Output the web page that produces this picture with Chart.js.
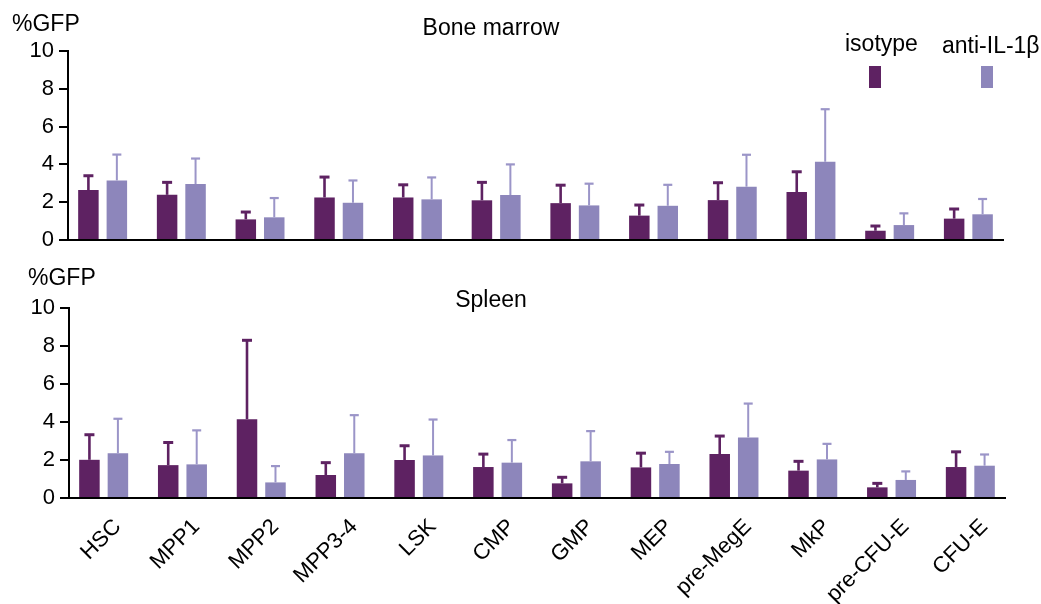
<!DOCTYPE html>
<html>
<head>
<meta charset="utf-8">
<script src="https://cdn.jsdelivr.net/npm/chart.js@4/dist/chart.umd.min.js"></script>
<style>
  html,body{margin:0;padding:0;background:#fff;}
  body{width:1041px;height:604px;overflow:hidden;position:relative;font-family:"Liberation Sans",Arial,sans-serif;}
  canvas{position:absolute;left:0;}
  #c1{top:0;}
  #c2{top:260px;}
  .t{position:absolute;font-size:23px;line-height:23px;color:#000;white-space:nowrap;}
  .box{position:absolute;width:12px;height:22px;}
</style>
</head>
<body>
<canvas id="c1" width="1041" height="260"></canvas>
<canvas id="c2" width="1041" height="344"></canvas>

<div class="t" style="left:12px;top:12px;">%GFP</div>
<div class="t" style="left:28px;top:266px;">%GFP</div>
<div class="t" id="title0" style="left:391px;width:200px;text-align:center;top:16px;"></div>
<div class="t" id="title1" style="left:391px;width:200px;text-align:center;top:288px;"></div>
<div class="t" id="leg0" style="left:845px;top:32px;"></div>
<div class="t" id="leg1" style="left:942px;top:34px;"></div>
<div class="box" id="box0" style="left:869px;top:66px;"></div>
<div class="box" id="box1" style="left:981px;top:66px;"></div>

<script>
// ---------------- data ----------------
const categories = ['HSC','MPP1','MPP2','MPP3-4','LSK','CMP','GMP','MEP','pre-MegE','MkP','pre-CFU-E','CFU-E'];
const yTicks = [0, 2, 4, 6, 8, 10];
const seriesNames = ['isotype', 'anti-IL-1\u03B2'];
const panelTitles = ['Bone marrow', 'Spleen'];

// Bone marrow
const bmIsotype     = [2.64, 2.39, 1.09, 2.25, 2.25, 2.10, 1.95, 1.29, 2.11, 2.54, 0.49, 1.13];
const bmIsotypeErr  = [0.76, 0.66, 0.39, 1.08, 0.67, 0.95, 0.95, 0.56, 0.92, 1.07, 0.25, 0.51];
const bmAnti        = [3.15, 2.96, 1.20, 1.97, 2.15, 2.38, 1.83, 1.81, 2.82, 4.14, 0.79, 1.36];
const bmAntiErr     = [1.37, 1.35, 1.02, 1.18, 1.16, 1.62, 1.15, 1.11, 1.69, 2.78, 0.62, 0.81];

// Spleen
const spIsotype     = [2.01, 1.73, 4.15, 1.21, 2.00, 1.63, 0.77, 1.61, 2.31, 1.44, 0.56, 1.63];
const spIsotypeErr  = [1.32, 1.19, 4.15, 0.65, 0.75, 0.68, 0.32, 0.75, 0.95, 0.49, 0.21, 0.80];
const spAnti        = [2.35, 1.77, 0.82, 2.35, 2.24, 1.86, 1.93, 1.79, 3.19, 2.03, 0.95, 1.70];
const spAntiErr     = [1.82, 1.79, 0.86, 2.01, 1.89, 1.19, 1.59, 0.64, 1.78, 0.82, 0.45, 0.59];

// ---------------- styles ----------------
const FONT = '"Liberation Sans", Arial, sans-serif';
const C_ISO = '#5e2262';
const C_ANTI = '#8d86bb';
const C_ANTI_ERR = '#9b95c8';

document.getElementById('title0').textContent = panelTitles[0];
document.getElementById('title1').textContent = panelTitles[1];
document.getElementById('leg0').textContent = seriesNames[0];
document.getElementById('leg1').textContent = seriesNames[1];
document.getElementById('box0').style.background = C_ISO;
document.getElementById('box1').style.background = C_ANTI;

function pts(vals){ return vals.map((v, i) => ({x: i, y: v})); }

const errorBars = {
  id: 'errorBars',
  afterDatasetsDraw(chart) {
    const ctx = chart.ctx, ys = chart.scales.y;
    chart.data.datasets.forEach((ds, di) => {
      const meta = chart.getDatasetMeta(di);
      meta.data.forEach((el, i) => {
        const v = ds.data[i].y, e = ds.errors[i];
        const yTop = ys.getPixelForValue(v + e);
        ctx.save();
        ctx.strokeStyle = ds.errorColor;
        ctx.lineCap = 'butt';
        ctx.lineWidth = ds.errorWidth;
        ctx.beginPath(); ctx.moveTo(el.x, el.y); ctx.lineTo(el.x, yTop); ctx.stroke();
        ctx.lineWidth = ds.capWidth;
        ctx.beginPath(); ctx.moveTo(el.x - ds.capHalf, yTop); ctx.lineTo(el.x + ds.capHalf, yTop); ctx.stroke();
        ctx.restore();
      });
    });
  }
};

function makeChart(id, iso, isoErr, anti, antiErr, showLabels, area) {
  return new Chart(document.getElementById(id), {
    type: 'bar',
    data: {
      datasets: [
        {label: seriesNames[0], data: pts(iso), errors: isoErr, backgroundColor: C_ISO,
         errorColor: C_ISO, errorWidth: 2.6, capWidth: 3, capHalf: 5},
        {label: seriesNames[1], data: pts(anti), errors: antiErr, backgroundColor: C_ANTI,
         errorColor: C_ANTI_ERR, errorWidth: 2, capWidth: 2.2, capHalf: 4.5}
      ]
    },
    options: {
      responsive: false, animation: false, devicePixelRatio: 1,
      categoryPercentage: 0.723, barPercentage: 0.72,
      layout: {padding: {left: 0, right: area.right, top: area.top, bottom: 0}},
      plugins: {legend: {display: false}, tooltip: {enabled: false}, title: {display: false}},
      scales: {
        x: {
          type: 'linear', min: -0.44, max: 11.44, offset: false,
          grid: {display: false},
          border: {display: true, color: '#000', width: 2},
          afterBuildTicks: s => { s.ticks = categories.map((c, i) => ({value: i})); },
          afterFit: s => { s.height = area.xh; },
          ticks: {display: showLabels, autoSkip: false, minRotation: 45, maxRotation: 45,
                  padding: 8, labelOffset: 14, color: '#000',
                  font: {family: FONT, size: 22},
                  callback: v => categories[v]}
        },
        y: {
          min: 0, max: 10,
          afterBuildTicks: s => { s.ticks = yTicks.map(v => ({value: v})); },
          afterFit: s => { s.width = area.yw; },
          grid: {drawOnChartArea: false, drawTicks: true, tickLength: 9, color: '#000', lineWidth: 2},
          border: {display: true, color: '#000', width: 2},
          ticks: {padding: 5, color: '#000', font: {family: FONT, size: 22}}
        }
      }
    },
    plugins: [errorBars]
  });
}

makeChart('c1', bmIsotype, bmIsotypeErr, bmAnti, bmAntiErr, false, {right: 38, top: 51, xh: 20, yw: 68});
makeChart('c2', spIsotype, spIsotypeErr, spAnti, spAntiErr, true, {right: 36, top: 48, xh: 106, yw: 69});
</script>
</body>
</html>
